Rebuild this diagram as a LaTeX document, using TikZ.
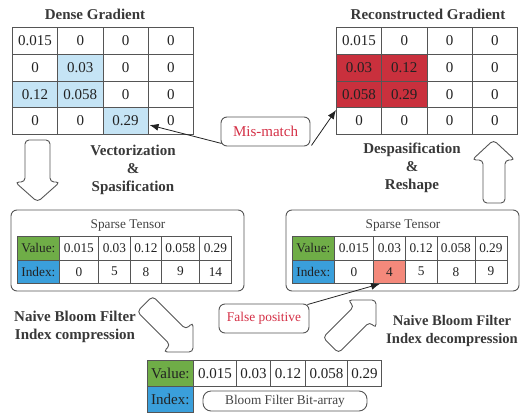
\documentclass[tikz,border=0pt]{standalone}
\usepackage{fontspec}
\setmainfont{Liberation Serif}
\usetikzlibrary{arrows.meta,calc}

\definecolor{gridline}{HTML}{555555}
\definecolor{lightcell}{HTML}{C5E4F5}
\definecolor{redcell}{HTML}{C9303D}
\definecolor{falsecell}{HTML}{F4897B}
\definecolor{valuelab}{HTML}{6FAD47}
\definecolor{indexlab}{HTML}{3A9FDB}
\definecolor{alert}{HTML}{D42F45}
\definecolor{ink}{HTML}{222222}

\begin{document}
\begin{tikzpicture}[x=1pt,y=-1pt,
  gcell/.style={draw=gridline, line width=0.8pt, minimum width=45.25pt,
    minimum height=26.75pt, inner sep=0pt, anchor=north west,
    font=\fontsize{15}{15}\selectfont, text=ink},
  scell/.style={draw=gridline, line width=0.8pt, minimum height=23.5pt,
    inner sep=0pt, anchor=north west, font=\fontsize{13.3}{13.3}\selectfont, text=ink},
  bcell/.style={draw=gridline, line width=0.8pt, minimum height=26pt,
    inner sep=0pt, anchor=north west, font=\fontsize{15}{15}\selectfont, text=ink},
  steplabel/.style={font=\bfseries\fontsize{15}{18}\selectfont, text=ink!90, align=center},
  panel/.style={draw=gridline, line width=0.9pt, rounded corners=6pt, inner sep=0pt},
  callout/.style={draw=gridline, line width=0.9pt, rounded corners=6pt, inner sep=0pt,
    text=alert},
  blockarrow/.style={draw=gridline, line width=0.9pt, rounded corners=4pt, fill=white},
  pointer/.style={draw=ink, line width=0.8pt, -{Latex[length=9pt,width=7pt]}}
]
\useasboundingbox (0,0) rectangle (521,412);

% ---------- dense gradient ----------
\node[steplabel] (dtitle) at (95,14) {Dense Gradient};
\foreach \i/\j/\v/\c in {
  0/0/0.015/white, 0/1/0/white, 0/2/0/white, 0/3/0/white,
  1/0/0/white, 1/1/0.03/lightcell, 1/2/0/white, 1/3/0/white,
  2/0/0.12/lightcell, 2/1/0.058/lightcell, 2/2/0/white, 2/3/0/white,
  3/0/0/white, 3/1/0/white, 3/2/0.29/lightcell, 3/3/0/white}
  \node[gcell, fill=\c] (d\i\j) at ({12+45.25*\j},{27+26.75*\i}) {\v};

% ---------- reconstructed gradient ----------
\node[steplabel] (rtitle) at (428,14) {Reconstructed Gradient};
\foreach \i/\j/\v/\c in {
  0/0/0.015/white, 0/1/0/white, 0/2/0/white, 0/3/0/white,
  1/0/0.03/redcell, 1/1/0.12/redcell, 1/2/0/white, 1/3/0/white,
  2/0/0.058/redcell, 2/1/0.29/redcell, 2/2/0/white, 2/3/0/white,
  3/0/0/white, 3/1/0/white, 3/2/0/white, 3/3/0/white}
  \node[gcell, fill=\c] (r\i\j) at ({336+45.25*\j},{27+26.75*\i}) {\v};

% ---------- mismatch callout ----------
\node[callout, minimum width=89pt, minimum height=29pt,
  font=\fontsize{15}{15}\selectfont] (mm) at (265.5,131.5) {Mis-match};
\draw[pointer] ($(mm.south west)+(1,-3)$) -- ($(d32.east)+(1,4)$);
\draw[pointer] ($(mm.south east)+(1,-1)$) -- ($(r20.south west)+(0,2)$);

% ---------- step labels ----------
\node[steplabel] (vec) at (133,170) {Vectorization\\\&\\Spasification};
\node[steplabel] (desp) at (412,168) {Despasification\\\&\\Reshape};
\node[steplabel] (comp) at (75,327) {Naive Bloom Filter\\Index compression};
\node[steplabel, font=\bfseries\fontsize{14.6}{18}\selectfont] (decomp) at (452,331)
  {Naive Bloom Filter\\Index decompression};

% ---------- block arrows ----------
\draw[blockarrow] (25,140) -- (50,140) -- (50,182) -- (60,182) -- (37.5,202)
  -- (15,182) -- (25,182) -- cycle;
\draw[blockarrow] (483,203) -- (483,160) -- (472,160) -- (493.5,140) -- (515,160)
  -- (505,160) -- (505,203) -- cycle;
\begin{scope}[shift={(193,352)}, rotate=-45]
  \draw[blockarrow] (-68,-11) -- (-21,-11) -- (-21,-21) -- (0,0) -- (-21,21)
    -- (-21,11) -- (-68,11) -- cycle;
\end{scope}
\begin{scope}[shift={(376,300)}, rotate=45]
  \draw[blockarrow] (-64,-11) -- (-20,-11) -- (-20,-20) -- (0,0) -- (-20,20)
    -- (-20,11) -- (-64,11) -- cycle;
\end{scope}

% ---------- left sparse tensor ----------
\node[panel, minimum width=233pt, minimum height=81pt] (lpanel) at (127.5,250.5) {};
\node[font=\fontsize{13.3}{13.3}\selectfont, text=ink!85] (ltitle) at (128,226) {Sparse Tensor};
\node[scell, fill=valuelab, minimum width=42pt] (lval) at (17,236) {Value:};
\node[scell, fill=indexlab, minimum width=42pt] (lidx) at (17,259.5) {Index:};
\foreach \k/\x/\w/\v/\n in {0/59/39pt/0.015/0, 1/98/32pt/0.03/5, 2/130/31pt/0.12/8,
  3/161/38pt/0.058/9, 4/199/32pt/0.29/14} {
  \node[scell, minimum width=\w] (lv\k) at (\x,236) {\v};
  \node[scell, minimum width=\w] (li\k) at (\x,259.5) {\n};
}

% ---------- right sparse tensor ----------
\node[panel, minimum width=233pt, minimum height=81pt] (rpanel) at (402.5,250.5) {};
\node[font=\fontsize{13.3}{13.3}\selectfont, text=ink!85] (rtitle2) at (403,226) {Sparse Tensor};
\node[scell, fill=valuelab, minimum width=42pt] (rval) at (292,236) {Value:};
\node[scell, fill=indexlab, minimum width=42pt] (ridx) at (292,259.5) {Index:};
\foreach \k/\x/\w/\v/\n/\c in {0/334/39pt/0.015/0/white, 1/373/32pt/0.03/4/falsecell,
  2/405/31.5pt/0.12/5/white, 3/436.5/38pt/0.058/8/white, 4/474.5/32pt/0.29/9/white} {
  \node[scell, minimum width=\w] (rv\k) at (\x,236) {\v};
  \node[scell, minimum width=\w, fill=\c] (ri\k) at (\x,259.5) {\n};
}

% ---------- false positive callout ----------
\node[callout, minimum width=90pt, minimum height=29pt,
  font=\fontsize{13.4}{13.4}\selectfont] (fp) at (264,318.5) {False positive};
\draw[pointer] ($(fp.north east)+(-2,1)$) -- ($(ri1.south west)+(7,0)$);

% ---------- compressed tensor ----------
\node[bcell, fill=valuelab, minimum width=46pt] (bval) at (147,360) {Value:};
\node[bcell, fill=indexlab, minimum width=46pt] (bidx) at (147,386) {Index:};
\foreach \k/\x/\w/\v in {0/193/43pt/0.015, 1/236/34pt/0.03, 2/270/35pt/0.12,
  3/305/42pt/0.058, 4/347/34pt/0.29}
  \node[bcell, minimum width=\w] (bv\k) at (\x,360) {\v};
\node[draw=gridline, line width=0.9pt, rounded corners=8pt, minimum width=164pt,
  minimum height=20pt, inner sep=0pt, font=\fontsize{13.3}{13.3}\selectfont,
  text=ink!85] (bits) at (285,401) {Bloom Filter Bit-array};

\end{tikzpicture}
\end{document}
